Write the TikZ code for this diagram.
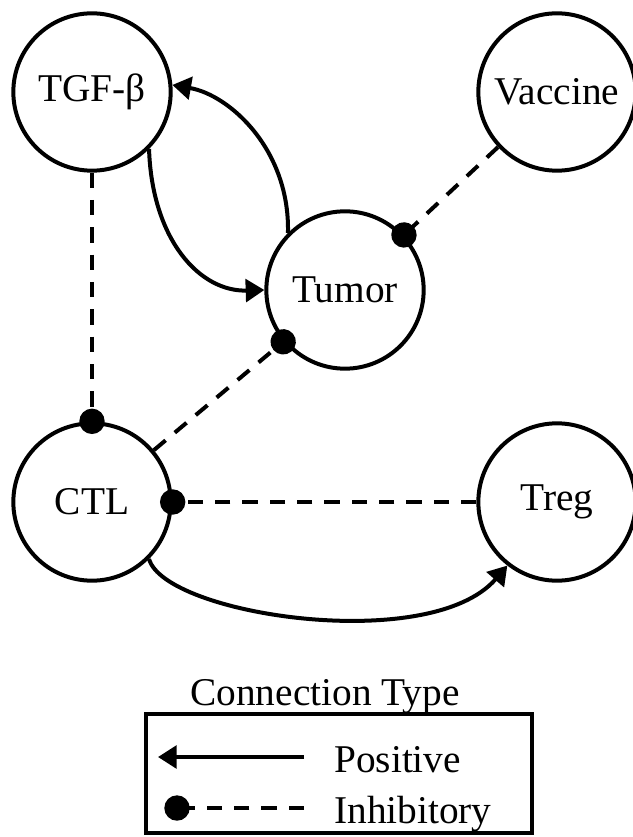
\documentclass[tikz,border=0pt]{standalone}
\usepackage{fontspec}
\setmainfont{Liberation Serif}
\usetikzlibrary{positioning, arrows.meta}

\tikzset{
  cell/.style={draw, circle, line width=3pt, minimum size=118pt, inner sep=0pt, font=\fontsize{29.5}{34}\selectfont},
  posarr/.style={line width=3pt, -{Triangle[length=14pt,width=17pt]}},
  inhib/.style={line width=3pt, dash pattern=on 11.5pt off 9pt, -{Circle[length=19pt]}, shorten >=-9.5pt},
  lbl/.style={font=\fontsize{29.5}{34}\selectfont, inner sep=0.75pt}
}

\begin{document}
\begin{tikzpicture}[x=0.75pt,y=0.75pt,yscale=-1,xscale=1]
\path[use as bounding box] (0,0) rectangle (632,837);

% Cells
\node[cell] (tgf) at (92,92) {TGF-β};
\node[cell] (vaccine) at (557,92) {Vaccine};
\node[cell] (tumor) at (345,290) {Tumor};
\node[cell] (ctl) at (92,502) {CTL};
\node[cell] (treg) at (557,502) {Treg};

% Positive links
\draw[posarr] (tgf.-45) .. controls (152,240) and (200,292) .. (tumor.west);
\draw[posarr] (tumor.135) .. controls (290,150) and (230,95) .. (tgf.5);
\draw[posarr] (ctl.-45) .. controls (165,615) and (430,655) .. (treg.-128);

% Inhibitory links
\draw[inhib] (vaccine) -- (tumor);
\draw[inhib] (ctl) -- (tumor);
\draw[inhib] (tgf) -- (ctl);
\draw[inhib] (treg) -- (ctl);

% Legend
\node[lbl] (title) at (325,697) {Connection Type};
\node[draw, line width=2.4pt, minimum width=289.5pt, minimum height=89.25pt] (legend) at (339,773.5) {};
\coordinate (posA) at (304,757);
\coordinate (posB) at (158,757);
\draw[posarr] (posA) -- (posB);
\node[lbl, anchor=west] (postext) at (333,760) {Positive};
\coordinate (inhA) at (304,808);
\coordinate (inhB) at (177,808);
\draw[inhib] (inhA) -- (inhB);
\node[lbl, anchor=west] (inhtext) at (333,814) {Inhibitory};
\end{tikzpicture}
\end{document}
